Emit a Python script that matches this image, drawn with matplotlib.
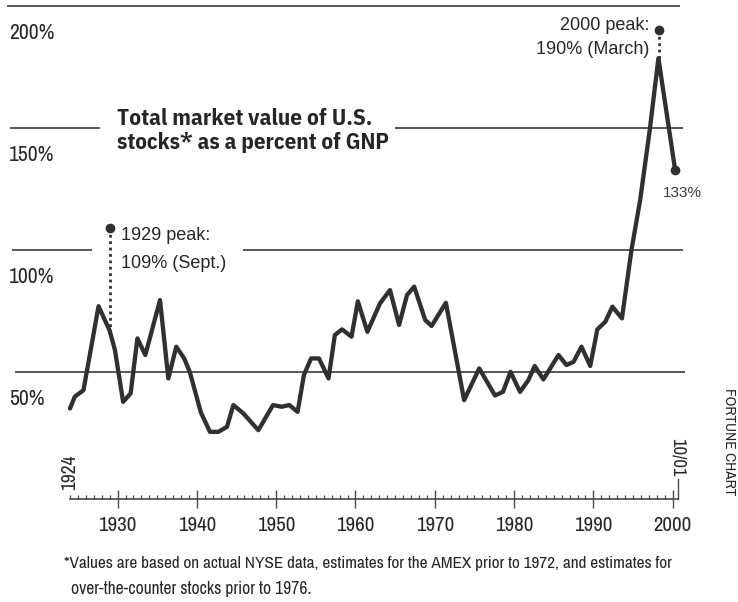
import numpy as np
import matplotlib
matplotlib.use("Agg")
import matplotlib.pyplot as plt

# ---------------- data ----------------
years = [1924.0, 1924.6, 1925.7, 1927.6, 1929.0, 1929.67, 1930.7, 1931.65, 1932.5,
         1933.5, 1935.35, 1936.4, 1937.4, 1938.4, 1939.1, 1940.5, 1941.65, 1942.7,
         1943.8, 1944.6, 1945.85, 1947.75, 1949.6, 1950.7, 1951.65, 1952.7, 1953.5,
         1954.4, 1955.4, 1956.6, 1957.4, 1958.3, 1959.5, 1960.3, 1961.5, 1963.1,
         1964.35, 1965.5, 1966.5, 1967.4, 1968.8, 1969.6, 1971.4, 1973.7, 1975.6,
         1977.6, 1978.6, 1979.55, 1980.75, 1981.8, 1982.6, 1983.7, 1985.6, 1986.6,
         1987.5, 1988.5, 1989.6, 1990.5, 1991.5, 1992.4, 1993.6, 1994.8, 1995.9,
         1997.1, 1998.2, 2000.3]
values = [35.1, 39.9, 42.6, 77.0, 67.0, 59.0, 37.8, 41.3, 63.8,
          57.0, 79.5, 47.4, 60.4, 55.6, 50.1, 33.5, 25.5, 25.5,
          27.6, 36.5, 33.1, 26.2, 36.5, 35.8, 36.5, 33.7, 48.8,
          55.6, 55.6, 47.4, 65.2, 67.5, 64.5, 79.0, 66.5, 78.2,
          83.6, 69.3, 81.6, 85.0, 71.3, 68.9, 78.4, 38.5, 51.5,
          40.4, 41.9, 50.1, 41.9, 46.7, 52.5, 47.0, 57.0, 52.9,
          54.2, 60.4, 52.5, 67.5, 70.6, 76.8, 72.0, 100.0, 120.5,
          149.0, 178.6, 133.0]

grid_values = [50, 100, 150, 200]
grid_labels = ["50%", "100%", "150%", "200%"]
decade_ticks = [1930, 1940, 1950, 1960, 1970, 1980, 1990, 2000]
decade_labels = ["1930", "1940", "1950", "1960", "1970", "1980", "1990", "2000"]

peak_years = [1929.0, 1998.3]
peak_values = [109, 190]
peak_line1 = ["1929 peak:", "2000 peak:"]
peak_line2 = ["109% (Sept.)", "190% (March)"]
end_label = "133%"
start_label = "1924"
end_tick_label = "10/01"
title_lines = ["Total market value of U.S.", "stocks* as a percent of GNP"]
foot_lines = ["*Values are based on actual NYSE data, estimates for the AMEX prior to 1972, and estimates for",
              "over-the-counter stocks prior to 1976."]
credit = "FORTUNE CHART"

# ---------------- layout ----------------
W, H = 738, 602
X0, X1 = 70, 678          # pixel x of axis start / end
Y0, Y1 = 499, 6           # pixel y (from top) of ylim bottom / top
XMIN, XMAX = 1924, 2000.67
YMIN, YMAX = -2, 200

NARROW = ["Archivo Narrow", "Roboto Condensed", "IBM Plex Sans Condensed", "Liberation Sans"]
BOLDC = ["IBM Plex Sans Condensed", "Liberation Sans"]
REG = ["Liberation Sans", "DejaVu Sans"]
INK = "#262626"
LINE = "#303030"
GRID = "#4a4a4a"

fig = plt.figure(figsize=(W / 100, H / 100), dpi=100)
fig.patch.set_facecolor("white")
ax = fig.add_axes([X0 / W, 1 - Y0 / H, (X1 - X0) / W, (Y0 - Y1) / H])
ax.set_xlim(XMIN, XMAX)
ax.set_ylim(YMIN, YMAX)
ax.patch.set_alpha(0)


def px2x(px):
    return XMIN + (px - X0) * (XMAX - XMIN) / (X1 - X0)


def ftext(px, py, s, **kw):
    fig.text(px / W, 1 - py / H, s, **kw)


# gridlines (with gaps for the title and the 1929 note)
grid_segments = {200: [(7, 680)], 150: [(10, 100), (395, 683)],
                 100: [(12, 92), (243, 683)], 50: [(15, 685)]}
for v, lab in zip(grid_values, grid_labels):
    for a, b in grid_segments[v]:
        ax.plot([px2x(a), px2x(b)], [v, v], color=GRID, lw=1.3, clip_on=False,
                solid_capstyle="butt", zorder=1)
    ax.annotate(lab, xy=(px2x(9), v), xytext=(0, -33), textcoords="offset pixels",
                ha="left", va="baseline", fontsize=15.5, family=NARROW, color=INK,
                annotation_clip=False)

# main series
ax.plot(years, values, color=LINE, lw=3.1, solid_joinstyle="round",
        solid_capstyle="round", zorder=3, clip_on=False)

# peak annotations
for i, (yr, val) in enumerate(zip(peak_years, peak_values)):
    base = np.interp(yr, years, values)
    ax.plot([yr, yr], [val, base], color=LINE, lw=2.0, ls=(0, (1, 1.3)),
            zorder=2, clip_on=False)
    ax.plot([yr], [val], "o", color=LINE, ms=6, zorder=4, clip_on=False)
    if i == 0:
        ax.annotate(peak_line1[i], xy=(yr, val), xytext=(11, -12), textcoords="offset pixels",
                    ha="left", va="baseline", fontsize=13, family=REG, color=INK,
                    annotation_clip=False)
        ax.annotate(peak_line2[i], xy=(yr, val), xytext=(11, -40), textcoords="offset pixels",
                    ha="left", va="baseline", fontsize=13, family=REG, color=INK,
                    annotation_clip=False)
    else:
        ax.annotate(peak_line1[i], xy=(yr, val), xytext=(-10, 0), textcoords="offset pixels",
                    ha="right", va="baseline", fontsize=13, family=REG, color=INK,
                    annotation_clip=False)
        ax.annotate(peak_line2[i], xy=(yr, val), xytext=(-10, -24), textcoords="offset pixels",
                    ha="right", va="baseline", fontsize=13, family=REG, color=INK,
                    annotation_clip=False)

# end point
ax.plot([years[-1]], [values[-1]], "o", color=LINE, ms=6, zorder=4, clip_on=False)
ax.annotate(end_label, xy=(years[-1], values[-1]), xytext=(7, -27), textcoords="offset pixels",
            ha="center", va="baseline", fontsize=11, family=REG, color="#3a3a3a",
            annotation_clip=False)

# axes styling
for s in ["left", "right", "top"]:
    ax.spines[s].set_visible(False)
ax.spines["bottom"].set_color(GRID)
ax.spines["bottom"].set_linewidth(1.2)
ax.set_yticks([])
ax.set_xticks(decade_ticks)
ax.set_xticklabels(decade_labels, family=NARROW, fontsize=15, color=INK)
ax.set_xticks(np.arange(1924, 2001, 1), minor=True)
ax.tick_params(axis="x", which="major", direction="inout", length=13, width=1.0,
               color=GRID, pad=6)
ax.tick_params(axis="x", which="minor", direction="in", length=3, width=0.9, color=GRID)
ax.plot([XMAX, XMAX], [YMIN, YMIN + 8], color=GRID, lw=1.0, clip_on=False)

# rotated end labels
ftext(69.5, 490, start_label, rotation=90, ha="center", va="bottom",
      fontsize=14, family=NARROW, color=INK)
ftext(677.5, 477, end_tick_label, rotation=270, ha="center", va="bottom",
      fontsize=13.5, family=NARROW, color=INK)
ftext(729, 442, credit, rotation=270, ha="center", va="center",
      fontsize=11, family=NARROW, color=INK)

# title
ftext(117, 125, title_lines[0], ha="left", va="baseline", fontsize=16.7,
      family=BOLDC, weight="bold", color=INK)
ftext(117, 149, title_lines[1], ha="left", va="baseline", fontsize=16.5,
      family=BOLDC, weight="bold", color=INK)

# footnote
ftext(63.5, 568, foot_lines[0], ha="left", va="baseline", fontsize=12.4,
      family=NARROW, color=INK)
ftext(70.6, 594, foot_lines[1], ha="left", va="baseline", fontsize=12.6,
      family=NARROW, color=INK)

fig.savefig("out.png", dpi=100, facecolor="white")
